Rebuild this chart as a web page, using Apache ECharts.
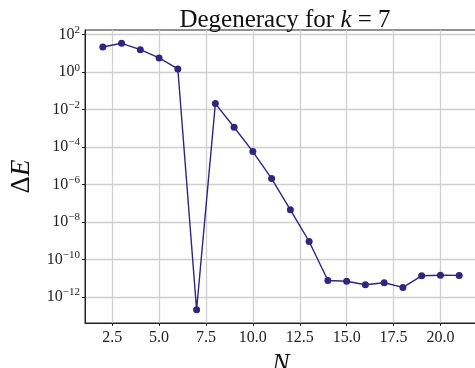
<!DOCTYPE html>
<html>
<head>
<meta charset="utf-8">
<script src="https://cdn.jsdelivr.net/npm/echarts@6/dist/echarts.min.js"></script>
<style>
  html, body { margin: 0; padding: 0; background: #fff; }
  #chart { width: 475px; height: 368px; }
</style>
</head>
<body>
<div id="chart"></div>
<script>
// N values
const nValues = [2, 3, 4, 5, 6, 7, 8, 9, 10, 11, 12, 13, 14, 15, 16, 17, 18, 19, 20, 21];
// log10 of Delta E
const logDeltaE = [1.34, 1.54, 1.2, 0.76, 0.17, -12.68, -1.68, -2.94, -4.24, -5.68,
    -7.35, -9.04, -11.12, -11.16, -11.35, -11.24, -11.49, -10.87, -10.84, -10.85];
const xTicks = [2.5, 5.0, 7.5, 10.0, 12.5, 15.0, 17.5, 20.0];
const yTickExps = [-12, -10, -8, -6, -4, -2, 0, 2];

const serif = "'Liberation Serif', 'DejaVu Serif', serif";
const chart = echarts.init(document.getElementById("chart"));

const option = {
    animation: false,
    title: {
        text: "{a|Degeneracy for }{k|k}{a| = 7}",
        left: 280,
        textAlign: "center",
        top: 3,
        textStyle: {
            fontWeight: "normal",
            rich: {
                a: { fontFamily: serif, fontSize: 25, fontWeight: "normal", color: "#111" },
                k: { fontFamily: serif, fontSize: 25, fontWeight: "normal", fontStyle: "italic", color: "#111" },
            },
        },
    },
    grid: {
        left: 85,
        top: 30,
        width: 392,
        height: 293,
        show: true,
        borderColor: "#222",
        borderWidth: 1,
        containLabel: false,
        outerBoundsMode: "none",
    },
    xAxis: {
        type: "value",
        min: 1.05,
        max: 21.95,
        name: "N",
        nameLocation: "middle",
        nameGap: 19,
        nameTextStyle: { fontFamily: serif, fontSize: 26, fontStyle: "italic", color: "#111" },
        axisLine: { show: true, onZero: false, lineStyle: { color: "#222", width: 1 } },
        axisTick: { show: true, length: 3, lineStyle: { color: "#222" }, customValues: xTicks },
        axisLabel: {
            customValues: xTicks,
            margin: 7,
            fontFamily: serif,
            fontSize: 16,
            color: "#222",
            formatter: (v) => v.toFixed(1),
        },
        splitLine: { show: true, lineStyle: { color: "#cfcfcf", width: 1.3 } },
    },
    yAxis: {
        type: "value",
        min: -13.39,
        max: 2.25,
        name: "{d|Δ}{e|E}",
        nameLocation: "middle",
        nameGap: 48,
        nameTextStyle: {
            rich: {
                d: { fontFamily: serif, fontSize: 27, color: "#111" },
                e: { fontFamily: serif, fontSize: 27, fontStyle: "italic", color: "#111" },
            },
        },
        axisLine: { show: true, lineStyle: { color: "#222", width: 1 } },
        axisTick: { show: true, length: 3, lineStyle: { color: "#222" }, customValues: yTickExps },
        axisLabel: {
            customValues: yTickExps,
            margin: 5,
            formatter: (v) => "{b|10}{s|" + String(Math.round(v)).replace("-", "−") + "}",
            rich: {
                b: { fontFamily: serif, fontSize: 16, color: "#222", lineHeight: 20 },
                s: { fontFamily: serif, fontSize: 11, color: "#222", lineHeight: 20, padding: [0, 0, 9, 0] },
            },
        },
        splitLine: { show: true, lineStyle: { color: "#cfcfcf", width: 1.3 } },
    },
    series: [
        {
            type: "line",
            data: nValues.map((n, i) => [n, logDeltaE[i]]),
            symbol: "circle",
            symbolSize: 7,
            showSymbol: true,
            lineStyle: { color: "#30257f", width: 1.4 },
            itemStyle: { color: "#30257f" },
        },
    ],
};

chart.setOption(option);
</script>
</body>
</html>
